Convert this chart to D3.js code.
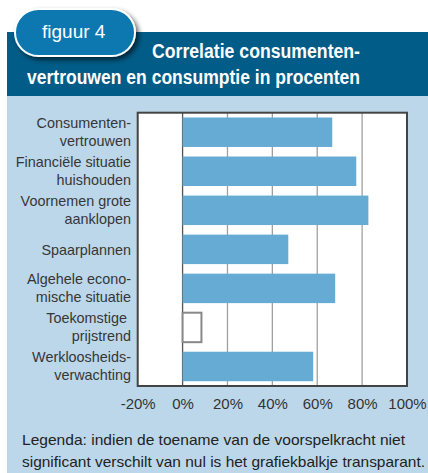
<!DOCTYPE html>
<html><head><meta charset="utf-8">
<script src="https://cdn.jsdelivr.net/npm/d3@7"></script>
<style>body{margin:0;background:#fff}svg{display:block}</style>
</head><body>
<svg id="c" width="428" height="473"></svg>
<script>
const categories = [
  ["Consumenten-","vertrouwen"],
  ["Financiële situatie","huishouden"],
  ["Voornemen grote","aanklopen"],
  ["Spaarplannen"],
  ["Algehele econo-","mische situatie"],
  ["Toekomstige\u00a0","prijstrend"],
  ["Werkloosheids-","verwachting"]
];
const values = [66.7, 77.4, 82.8, 47.1, 68.0, 8.4, 58.2];
const significant = [true, true, true, true, true, false, true];
const tickValues = [-20, 0, 20, 40, 60, 80, 100];
const figLabel = "figuur 4";
const titleLines = ["Correlatie consumenten-", "vertrouwen en consumptie in procenten"];
const legendLines = ["Legenda: indien de toename van de voorspelkracht niet",
  "significant verschilt van nul is het grafiekbalkje transparant."];

const svg = d3.select("#c");
const defs = svg.append("defs");
const f = defs.append("filter").attr("id","sh").attr("x","-20%").attr("y","-30%").attr("width","150%").attr("height","180%");
f.append("feDropShadow").attr("dx",3).attr("dy",3).attr("stdDeviation",2.5).attr("flood-color","#000").attr("flood-opacity",0.6);

// background panels
svg.append("rect").attr("x",7).attr("y",96).attr("width",421).attr("height",377).attr("fill","#bcd7e9");
svg.append("rect").attr("x",7).attr("y",32).attr("width",421).attr("height",64).attr("fill","#015c87");

// pill
svg.append("rect").attr("x",15).attr("y",9).attr("width",120).attr("height",47).attr("rx",23.5)
  .attr("fill","#0878b0").attr("stroke","#fff").attr("stroke-width",2).attr("filter","url(#sh)");
svg.append("text").attr("x",42).attr("y",38).attr("fill","#fff")
  .style("font-family","'Liberation Sans Narrow','Liberation Sans',Arial,sans-serif").style("font-size","19px")
  .text(figLabel);

// title
const tfont = "'Liberation Sans Narrow','Liberation Sans',Arial,sans-serif";
svg.append("text").attr("x",152).attr("y",58).attr("fill","#fff").style("font-family",tfont)
  .style("font-weight","bold").style("font-size","19.5px").attr("textLength",208).attr("lengthAdjust","spacingAndGlyphs")
  .text(titleLines[0]);
svg.append("text").attr("x",27).attr("y",84).attr("fill","#fff").style("font-family",tfont)
  .style("font-weight","bold").style("font-size","19.5px").attr("textLength",333).attr("lengthAdjust","spacingAndGlyphs")
  .text(titleLines[1]);

// plot
const L = 137.7, R = 407, T = 112.7, B = 386;
const x = d3.scaleLinear().domain([-20,100]).range([L,R]);
const y = d3.scaleBand().domain(d3.range(categories.length)).range([T,B]).paddingInner(0.245).paddingOuter(0.1225);

svg.append("rect").attr("x",L).attr("y",T).attr("width",R-L).attr("height",B-T).attr("fill","#fff");

const g = svg.append("g");
g.selectAll("line.grid").data(tickValues.filter(v=>v>-20 && v<100)).join("line")
  .attr("x1",d=>x(d)).attr("x2",d=>x(d)).attr("y1",T).attr("y2",B)
  .attr("stroke",d=>d===0?"#555":"#a0a0a0").attr("stroke-width",1.3);

g.selectAll("rect.bar").data(values).join("rect")
  .attr("x",x(0)).attr("y",(d,i)=>y(i)).attr("height",y.bandwidth())
  .attr("width",d=>x(d)-x(0))
  .attr("fill",(d,i)=>significant[i]?"#66abd3":"#fff")
  .attr("stroke",(d,i)=>significant[i]?"none":"#888").attr("stroke-width",2);

svg.append("rect").attr("x",L).attr("y",T).attr("width",R-L).attr("height",B-T)
  .attr("fill","none").attr("stroke","#444").attr("stroke-width",2);

// x axis labels
const axis = d3.axisBottom(x).tickValues(tickValues).tickSize(0).tickPadding(0).tickFormat(d=>d+"%");
const ax = svg.append("g").attr("transform",`translate(0,${B})`).call(axis);
ax.select(".domain").remove();
ax.selectAll("text").attr("dy",0).attr("y",23).attr("fill","#333")
  .style("font-family","'Liberation Sans',Arial,sans-serif").style("font-size","15px");

// category labels
const lab = svg.append("g").style("font-family","'Liberation Sans',Arial,sans-serif").style("font-size","14.4px").attr("fill","#363636");
categories.forEach((lines,i)=>{
  const c = y(i)+y.bandwidth()/2;
  const t = lab.append("text").attr("text-anchor","end").attr("xml:space","preserve");
  if(lines.length===1){
    t.append("tspan").attr("x",131).attr("y",c+6).text(lines[0]);
  } else {
    t.append("tspan").attr("x",131).attr("y",c-4).text(lines[0]);
    t.append("tspan").attr("x",131).attr("y",c+14).text(lines[1]);
  }
});

// legend
legendLines.forEach((s,i)=>{
  svg.append("text").attr("x",22).attr("y",445+i*21.5).attr("fill","#222")
    .style("font-family","'Liberation Sans',Arial,sans-serif").style("font-size","14.5px")
    .attr("textLength", i===0?383:403).attr("lengthAdjust","spacingAndGlyphs")
    .text(s);
});
</script>
</body></html>
